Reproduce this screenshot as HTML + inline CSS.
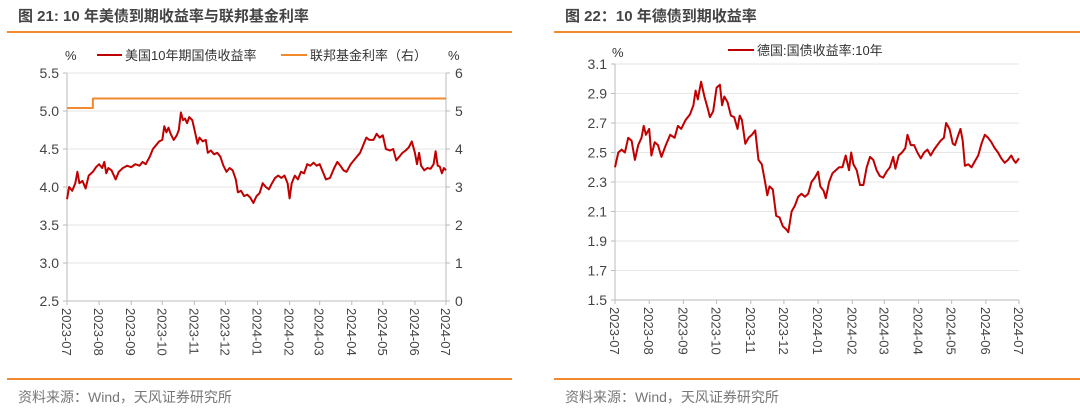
<!DOCTYPE html>
<html><head><meta charset="utf-8"><style>
body{margin:0;background:#fff;width:1080px;height:410px;overflow:hidden}
svg{display:block;font-family:"Liberation Sans","Noto Sans CJK SC",sans-serif}
</style></head><body>
<svg id="c" width="1080" height="410">
<g>
<text x="18" y="21" font-size="15" font-weight="bold" fill="#444">图 21: 10 年美债到期收益率与联邦基金利率</text>
<rect x="7" y="31" width="505" height="2" fill="#f08a2c"/>
<rect x="7" y="378" width="505" height="2" fill="#f08a2c"/>
<text x="18" y="402" font-size="14" fill="#777">资料来源：Wind，天风证券研究所</text>
</g>
<g>
<text x="565" y="21" font-size="15" font-weight="bold" fill="#444">图 22：10 年德债到期收益率</text>
<rect x="554" y="31" width="526" height="2" fill="#f08a2c"/>
<rect x="554" y="378" width="526" height="2" fill="#f08a2c"/>
<text x="565" y="402" font-size="14" fill="#777">资料来源：Wind，天风证券研究所</text>
</g>
<g id="L"></g><g id="R"></g>
</svg>
<script>
const monthLabels=["2023-07","2023-08","2023-09","2023-10","2023-11","2023-12","2024-01","2024-02","2024-03","2024-04","2024-05","2024-06","2024-07"];
const monthDays=[0,31,62,92,123,153,184,215,244,275,305,336,366];
const usDays=[0,2,5,8,10,12,15,18,21,25,28,31,34,36,38,40,43,47,50,54,58,62,66,70,73,76,80,83,86,89,92,94,96,98,100,103,106,108,110,112,114,116,118,121,124,126,128,131,134,136,139,142,145,148,151,154,157,160,163,165,168,171,174,177,180,183,186,189,192,195,198,201,204,207,210,213,215,217,220,223,226,229,232,235,238,241,244,247,250,254,258,261,264,267,270,274,277,280,283,286,289,292,296,299,302,305,308,312,315,318,321,324,327,330,333,336,338,340,342,345,348,351,354,356,358,360,362,364,366];
const usVals=[3.84,4.00,3.95,4.05,4.20,4.05,4.08,3.98,4.15,4.20,4.26,4.30,4.25,4.33,4.18,4.25,4.22,4.10,4.20,4.25,4.28,4.26,4.30,4.28,4.33,4.30,4.40,4.50,4.55,4.60,4.62,4.80,4.72,4.78,4.70,4.62,4.68,4.75,4.98,4.88,4.90,4.84,4.92,4.88,4.70,4.57,4.65,4.60,4.62,4.45,4.48,4.43,4.45,4.40,4.28,4.20,4.25,4.22,4.10,3.93,3.95,3.88,3.90,3.86,3.79,3.88,3.92,4.05,4.00,3.97,4.05,4.12,4.15,4.12,4.15,4.05,3.85,4.05,4.15,4.10,4.20,4.18,4.30,4.28,4.32,4.28,4.30,4.20,4.10,4.12,4.25,4.33,4.28,4.22,4.20,4.30,4.35,4.40,4.45,4.55,4.65,4.62,4.62,4.70,4.65,4.68,4.50,4.48,4.50,4.35,4.40,4.45,4.48,4.52,4.60,4.45,4.30,4.45,4.28,4.22,4.25,4.24,4.30,4.47,4.28,4.27,4.18,4.25,4.22];
const fedDays=[0,25,25,366];
const fedVals=[5.08,5.08,5.33,5.33];
const deDays=[0,3,6,9,12,15,18,21,24,26,28,31,33,36,39,42,46,50,54,57,60,64,68,71,73,75,78,81,84,86,89,92,95,97,99,102,105,108,111,113,115,118,121,124,127,130,133,136,138,140,143,146,149,152,155,157,160,163,166,169,172,175,178,181,184,186,189,191,194,197,200,203,206,209,212,214,216,219,222,225,228,231,234,237,240,243,246,249,252,254,257,260,263,265,268,271,274,277,280,283,286,289,292,295,298,300,303,306,308,311,313,315,317,320,323,326,329,332,335,338,341,344,347,350,353,356,359,361,363,366];
const deVals=[2.40,2.50,2.52,2.50,2.60,2.58,2.45,2.55,2.60,2.68,2.62,2.66,2.48,2.57,2.55,2.47,2.55,2.62,2.60,2.68,2.66,2.72,2.76,2.82,2.92,2.86,2.98,2.88,2.80,2.74,2.78,2.94,2.96,2.82,2.88,2.84,2.75,2.74,2.66,2.75,2.72,2.56,2.60,2.62,2.65,2.45,2.42,2.30,2.21,2.27,2.25,2.07,2.06,2.00,1.98,1.96,2.10,2.14,2.20,2.22,2.20,2.22,2.30,2.33,2.37,2.27,2.24,2.19,2.30,2.36,2.38,2.40,2.40,2.48,2.38,2.50,2.42,2.38,2.28,2.28,2.40,2.47,2.45,2.38,2.34,2.33,2.37,2.40,2.47,2.39,2.48,2.50,2.53,2.62,2.55,2.55,2.50,2.46,2.50,2.52,2.48,2.52,2.55,2.58,2.60,2.70,2.66,2.56,2.55,2.62,2.66,2.58,2.41,2.42,2.40,2.44,2.48,2.56,2.62,2.60,2.57,2.53,2.50,2.46,2.43,2.45,2.48,2.45,2.43,2.46];
const leftTicks=["2.5","3.0","3.5","4.0","4.5","5.0","5.5"];
const rightTicks=["0","1","2","3","4","5","6"];
const deTicks=["1.5","1.7","1.9","2.1","2.3","2.5","2.7","2.9","3.1"];

const NS="http://www.w3.org/2000/svg";
function el(p,t,a,txt){const e=document.createElementNS(NS,t);for(const k in a)e.setAttribute(k,a[k]);if(txt!=null)e.textContent=txt;p.appendChild(e);return e;}
function lin(d0,d1,r0,r1){return v=>r0+(v-d0)/(d1-d0)*(r1-r0);}

function panel(g,x0,x1,y0,y1,ymin,ymax,ticks,rticks,rmin,rmax){
  const X=lin(0,366,x0,x1),Y=lin(ymin,ymax,y1,y0);
  ticks.forEach(t=>{const y=Y(+t);
    if(+t!==ymin){const l=el(g,'line',{x1:x0,x2:x1,y1:y,y2:y,stroke:'#e6e6e6','stroke-width':1});
    
    }
    const tx=el(g,'text',{x:x0-8,y:y+5,'font-size':14,fill:'#444','text-anchor':'end'},t);
    
    
    const tk=el(g,'line',{x1:x0-4,x2:x0,y1:y,y2:y,stroke:'#bbb'});
    
    
  });
  const ax=el(g,'line',{x1:x0,x2:x0,y1:y0,y2:y1,stroke:'#bbb'});
  
  
  const bx=el(g,'line',{x1:x0,x2:x1,y1:y1,y2:y1,stroke:'#bbb'});
  
  
  if(rticks){const R=lin(rmin,rmax,y1,y0);
    const ra=el(g,'line',{x1:x1,x2:x1,y1:y0,y2:y1,stroke:'#bbb'});
    
    
    rticks.forEach(t=>{const y=R(+t);
      const tx=el(g,'text',{x:x1+9,y:y+5,'font-size':14,fill:'#444'},t);
      
      
      const tk=el(g,'line',{x1:x1,x2:x1+4,y1:y,y2:y,stroke:'#bbb'});
      
      });
  }
  monthDays.forEach((d,i)=>{const x=X(d);
    const tk=el(g,'line',{x1:x,x2:x,y1:y1,y2:y1+4,stroke:'#bbb'});
    
    
    const tx=el(g,'text',{x:0,y:0,'font-size':13,fill:'#444',transform:`translate(${x-5},${y1+7}) rotate(90)`},monthLabels[i]);
    
    
  });
  return {X,Y};
}
function line(g,X,Y,ds,vs,col,w,name){
  const p=el(g,'polyline',{points:ds.map((d,i)=>X(d).toFixed(1)+','+Y(vs[i]).toFixed(1)).join(' '),fill:'none',stroke:col,'stroke-width':w,'stroke-linejoin':'round'});
  
  
}
const L=document.getElementById('L');
const a=panel(L,67,446,73,301,2.5,5.5,leftTicks,rightTicks,0,6);
const RY=lin(0,6,301,73);
line(L,a.X,RY,fedDays,fedVals,'#f08a2c',2,'fed-funds-line');
line(L,a.X,a.Y,usDays,usVals,'#c00000',2,'us-10y-line');
let t=el(L,'text',{x:65,y:60,'font-size':13,fill:'#333'},'%');

t=el(L,'text',{x:448,y:60,'font-size':13,fill:'#333'},'%');

let g=el(L,'g',{});

el(g,'line',{x1:97,x2:122,y1:55,y2:55,stroke:'#c00000','stroke-width':2});
el(g,'text',{x:125,y:60,'font-size':13,fill:'#333'},'美国10年期国债收益率');
g=el(L,'g',{});

el(g,'line',{x1:281,x2:307,y1:55,y2:55,stroke:'#f08a2c','stroke-width':2});
el(g,'text',{x:310,y:60,'font-size':13,fill:'#333'},'联邦基金利率（右）');

const R=document.getElementById('R');
const b=panel(R,615,1019,64,300,1.5,3.1,deTicks);
line(R,b.X,b.Y,deDays,deVals,'#c00000',2,'de-10y-line');
t=el(R,'text',{x:612,y:57,'font-size':13,fill:'#333'},'%');

g=el(R,'g',{});

el(g,'line',{x1:728,x2:754,y1:50,y2:50,stroke:'#c00000','stroke-width':2});
el(g,'text',{x:757,y:55,'font-size':13,fill:'#333'},'德国:国债收益率:10年');
</script>
</body></html>
